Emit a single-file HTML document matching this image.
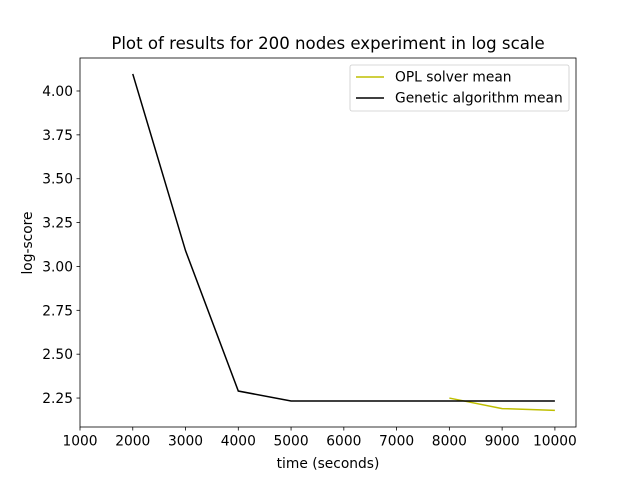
<!DOCTYPE html>
<html><head><meta charset="utf-8"><style>
body{margin:0;background:#fff}
text{font-family:"DejaVu Sans","Liberation Sans",sans-serif;fill:#000}
</style></head><body>
<svg id="chart" width="640" height="480" xmlns="http://www.w3.org/2000/svg">
<rect width="640" height="480" fill="#fff"/>
<text x="328" y="49" font-size="16.6" text-anchor="middle">Plot of results for 200 nodes experiment in log scale</text>
<g id="plot"></g>
<rect x="80" y="58" width="496" height="369" fill="none" stroke="#000" stroke-width="0.8"/>
<text x="328" y="468" font-size="13.8" text-anchor="middle">time (seconds)</text>
<text transform="translate(32,243) rotate(-90)" font-size="13.8" text-anchor="middle">log-score</text>
<g>
<rect x="350" y="65" width="219" height="46" rx="2" fill="#fff" stroke="#ccc" stroke-width="0.8"/>
<line x1="356" y1="77" x2="384" y2="77" stroke="#bfbf00" stroke-width="1.5"/>
<text x="395" y="81.5" font-size="13.8">OPL solver mean</text>
<line x1="356" y1="98" x2="384" y2="98" stroke="#000" stroke-width="1.5"/>
<text x="395" y="102.5" font-size="13.8">Genetic algorithm mean</text>
</g>
</svg>
<script>
const xTicks=[1000,2000,3000,4000,5000,6000,7000,8000,9000,10000];
const yTicks=[2.25,2.5,2.75,3.0,3.25,3.5,3.75,4.0];
const gaX=[2000,3000,4000,5000,6000,7000,8000,9000,10000];
const gaY=[4.097,3.09,2.29,2.233,2.233,2.233,2.233,2.233,2.233];
const oplX=[8000,9000,10000];
const oplY=[2.25,2.19,2.18];
const X0=80,X1=576,Y0=427,Y1=58,xmin=1000,xmax=10400,ymin=2.085,ymax=4.188;
const sx=v=>X0+(v-xmin)/(xmax-xmin)*(X1-X0);
const sy=v=>Y0-(v-ymin)/(ymax-ymin)*(Y0-Y1);
const NS="http://www.w3.org/2000/svg",g=document.getElementById('plot');
function mk(t,a){const e=document.createElementNS(NS,t);for(const k in a)e.setAttribute(k,a[k]);g.appendChild(e);return e;}
xTicks.forEach(v=>{
const l=mk('line',{x1:sx(v),x2:sx(v),y1:427,y2:430.5,stroke:'#000','stroke-width':0.8});


const t=mk('text',{x:sx(v),y:445.5,'font-size':13.8,'text-anchor':'middle'});t.textContent=v;


});
yTicks.forEach(v=>{
const l=mk('line',{x1:76.5,x2:80,y1:sy(v),y2:sy(v),stroke:'#000','stroke-width':0.8});


const t=mk('text',{x:73,y:sy(v)+5,'font-size':13.8,'text-anchor':'end'});t.textContent=v.toFixed(2);


});
const p1=mk('polyline',{points:oplX.map((x,i)=>sx(x)+','+sy(oplY[i])).join(' '),fill:'none',stroke:'#bfbf00','stroke-width':1.5});


const p2=mk('polyline',{points:gaX.map((x,i)=>sx(x)+','+sy(gaY[i])).join(' '),fill:'none',stroke:'#000','stroke-width':1.5});


</script>
</body></html>
